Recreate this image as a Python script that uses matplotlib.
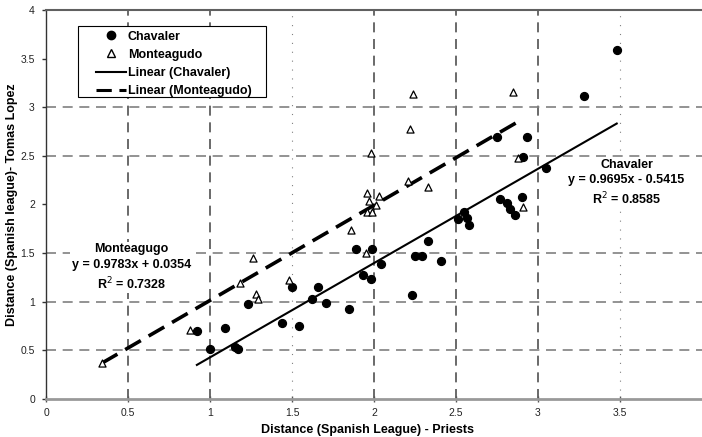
import numpy as np
import matplotlib
matplotlib.use('Agg')
import matplotlib.pyplot as plt
from matplotlib.lines import Line2D
from matplotlib.patches import Rectangle

plt.rcParams['font.family'] = ['Liberation Sans', 'DejaVu Sans']

# Chavaler (puntos rellenos)
chav_x = [0.92, 1.00, 1.09, 1.15, 1.17, 1.23, 1.44, 1.50, 1.54, 1.62, 1.66, 1.71, 1.85,
          1.89, 1.99, 1.93, 1.98, 2.04, 2.23, 2.25, 2.29, 2.33, 2.41, 2.51, 2.55, 2.57,
          2.58, 2.75, 2.77, 2.81, 2.83, 2.86, 2.90, 2.91, 2.93, 3.05, 3.28, 3.48]
chav_y = [0.70, 0.51, 0.73, 0.53, 0.51, 0.98, 0.78, 1.15, 0.75, 1.03, 1.15, 0.99, 0.93,
          1.54, 1.54, 1.28, 1.23, 1.39, 1.07, 1.47, 1.47, 1.62, 1.42, 1.85, 1.92, 1.86,
          1.79, 2.69, 2.06, 2.02, 1.95, 1.89, 2.08, 2.49, 2.69, 2.38, 3.12, 3.59]

# Monteagudo (triangulos)
mont_x = [0.34, 0.88, 1.18, 1.26, 1.28, 1.29, 1.48, 1.86, 1.95, 1.96, 1.97, 2.03, 2.01,
          1.96, 1.99, 1.98, 2.21, 2.22, 2.24, 2.33, 2.85, 2.88, 2.91]
mont_y = [0.37, 0.71, 1.19, 1.45, 1.08, 1.03, 1.22, 1.74, 1.50, 2.12, 2.04, 2.09, 1.99,
          1.92, 1.92, 2.53, 2.24, 2.78, 3.14, 2.18, 3.16, 2.48, 1.97]

# Ajustes lineales
chav_fit = [0.9695, -0.5415]
mont_fit = [0.9783, 0.0354]
chav_r2 = 0.8585
mont_r2 = 0.7328

fig = plt.figure(figsize=(7.02, 4.37), dpi=100)
ax = fig.add_axes([46 / 702, 38 / 437, 656 / 702, 389 / 437])

ax.scatter(chav_x, chav_y, s=32, color='black', zorder=3)
ax.scatter(mont_x, mont_y, s=26, marker='^', facecolor='white', edgecolor='black',
           linewidths=0.9, zorder=3)

xc = np.array([min(chav_x), max(chav_x)])
ax.plot(xc, np.polyval(chav_fit, xc), color='black', lw=1.5, zorder=2)
xm = np.array([min(mont_x), max(mont_x)])
ax.plot(xm, np.polyval(mont_fit, xm), color='black', lw=2.6, dashes=(5, 2.5), zorder=2)

ax.set_xlim(0, 4)
ax.set_ylim(0, 4)
ax.set_xticks([0, 0.5, 1, 1.5, 2, 2.5, 3, 3.5])
ax.set_xticklabels(['0', '0.5', '1', '1.5', '2', '2.5', '3', '3.5'])
ax.set_yticks([0, 0.5, 1, 1.5, 2, 2.5, 3, 3.5, 4])
ax.set_yticklabels(['0', '0.5', '1', '1.5', '2', '2.5', '3', '3.5', '4'])

# rejilla
ax.grid(True, color='#808080', lw=1.2, dashes=(6, 4))
for pos, gl in zip(ax.get_xticks(), ax.xaxis.get_gridlines()):
    if pos == 0:
        gl.set_visible(False)
    elif pos in (1.5, 3.5):
        gl.set_dashes((1, 7))
        gl.set_linewidth(0.8)
    else:
        gl.set_color('#505050')
for pos, gl in zip(ax.get_yticks(), ax.yaxis.get_gridlines()):
    if pos in (0, 2, 3.5, 4):
        gl.set_visible(False)
ax.set_axisbelow(True)

ax.spines['right'].set_visible(False)
ax.spines['top'].set_color('#606060')
ax.spines['top'].set_linewidth(1.5)
ax.spines['bottom'].set_color('#999999')
ax.spines['bottom'].set_linewidth(2)
ax.spines['left'].set_color('#333333')
ax.spines['left'].set_linewidth(1)

ax.tick_params(axis='x', direction='inout', length=5, width=1, color='#555555',
               labelsize=7.5, pad=4, labelcolor='#222222')
ax.tick_params(axis='y', direction='out', length=3, width=1, color='#333333',
               labelsize=7.5, pad=5, labelcolor='#222222')

ax.set_xlabel('Distance (Spanish League) - Priests', fontsize=9, fontweight='bold', labelpad=3)
ax.xaxis.set_label_coords(0.49, -0.065)
ax.set_ylabel('Distance (Spanish league)- Tomas Lopez', fontsize=9, fontweight='bold')
ax.yaxis.set_label_coords(-0.043, 0.5)

box = dict(facecolor='white', edgecolor='none', pad=1)
ax.text(3.54, 2.22, 'Chavaler\ny = %.4fx - %.4f\nR$^2$ = %.4f' % (chav_fit[0], -chav_fit[1], chav_r2),
        ha='center', va='center', fontsize=9, fontweight='bold', linespacing=1.35, bbox=box,
        zorder=2.5)
ax.text(0.52, 1.35, 'Monteagugo\ny = %.4fx + %.4f\nR$^2$ = %.4f' % (mont_fit[0], mont_fit[1], mont_r2),
        ha='center', va='center', fontsize=9, fontweight='bold', linespacing=1.35, bbox=box,
        zorder=2.5)

# leyenda
ax.add_patch(Rectangle((0.0488, 0.7763), 0.2866, 0.1826, transform=ax.transAxes,
                       facecolor='white', edgecolor='black', lw=0.8, zorder=4.5))
handles = [
    Line2D([], [], ls='none', marker='o', color='black', markersize=6),
    Line2D([], [], ls='none', marker='^', markerfacecolor='white', markeredgecolor='black',
           markersize=5.5),
    Line2D([], [], color='black', lw=1.5),
    Line2D([], [], color='black', lw=2.2, dashes=(5, 2.5)),
]
labels = ['Chavaler', 'Monteagudo', 'Linear (Chavaler)', 'Linear (Monteagudo)']
leg = ax.legend(handles, labels, loc='upper left', bbox_to_anchor=(0.0762, 0.947),
                prop={'weight': 'bold', 'size': 9}, frameon=False, handlelength=2.4,
                handletextpad=0.15, borderpad=0, borderaxespad=0, labelspacing=0.5)
leg.set_zorder(5)

fig.savefig('out.png', dpi=100)
